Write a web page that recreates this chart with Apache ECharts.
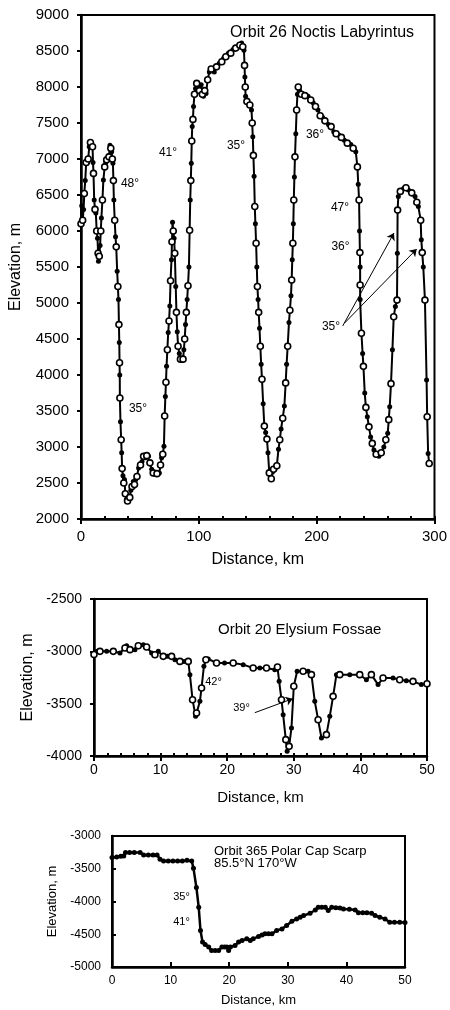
<!DOCTYPE html>
<html>
<head>
<meta charset="utf-8">
<script src="https://cdn.jsdelivr.net/npm/echarts@6/dist/echarts.min.js"></script>
<style>html,body{margin:0;padding:0;background:#fff}#c{width:450px;height:1010px}</style>
</head>
<body>
<div id="c"></div>
<script>
// ---------- DATA ----------
// Panel 1: Orbit 26 Noctis Labyrintus  [distance km, elevation m]
const noctisProfile = [
[0,6100],[0.6,6350],[1.4,6150],[2.2,6300],[2.8,6520],[3.6,6700],[4.4,6950],[5,6940],[6.1,7000],[7,7170],[8,7230],[8.8,7200],[9.8,7170],[10.2,6950],[10.6,6800],[11.2,6430],[11.9,6300],[12.6,6250],[13.3,6000],[14,5900],[14.5,5690],[14.8,5580],[15.5,5650],[16.2,5800],[16.8,6000],[17.3,6180],[18.2,6430],[19,6710],[20.1,6890],[21,6950],[21.8,6990],[22.8,7000],[23.7,7030],[24.6,7190],[25.3,7150],[26,7100],[26.6,7000],[27.1,6940],[27.5,6700],[27.9,6430],[28.6,6150],[29.3,5920],[29.9,5780],[30.7,5440],[31.3,5230],[31.8,5050],[32.2,4700],[32.5,4450],[32.7,4170],[32.9,4000],[33.0,3680],[33.5,3350],[34.1,3100],[34.5,2920],[34.9,2700],[35.6,2600],[36.3,2500],[36.9,2550],[37.6,2350],[38.5,2270],[39.5,2250],[40.5,2260],[41.4,2300],[42.3,2400],[43.3,2450],[44.4,2520],[45.4,2480],[46.5,2550],[47.5,2590],[48.9,2710],[50.5,2750],[51.8,2800],[53.1,2870],[54.5,2850],[55.8,2880],[57.3,2870],[58.5,2780],[60,2690],[61.3,2640],[62.8,2620],[64.5,2630],[66.5,2640],[67.5,2750],[68.4,2850],[69.4,2900],[70.4,3010],[71.0,3430],[71.6,3700],[72.1,3900],[72.6,4120],[73.3,4350],[74.0,4590],[74.7,4750],[75.4,4960],[76.0,5310],[76.8,5600],[77.2,5850],[77.7,6120],[78.3,6000],[79.0,5900],[79.6,5690],[80.4,5230],[81.0,4870],[81.7,4600],[82.4,4400],[83.4,4300],[84.4,4220],[85.5,4200],[86.6,4220],[87.3,4350],[88.0,4500],[88.7,4700],[89.4,4870],[90.1,5050],[90.8,5240],[91.6,5500],[92.2,6010],[92.7,6430],[93.2,6700],[93.6,6940],[94.0,7250],[94.4,7450],[95.0,7550],[95.5,7730],[96.3,7900],[97.2,7980],[98.2,8050],[99.2,8030],[100.5,7950],[102,8030],[103,7900],[103.9,7870],[105,7950],[106.1,7910],[107.5,8100],[108.9,8210],[110.5,8250],[113.1,8210],[115,8280],[117.3,8330],[119.5,8350],[121,8400],[122.9,8420],[125,8470],[127.1,8470],[129,8520],[131.3,8540],[133,8550],[134.8,8580],[136.3,8610],[137.3,8560],[138.3,8510],[138.8,8300],[139.1,8140],[139.4,8000],[139.7,7870],[140.8,7800],[141.9,7770],[143.3,7750],[144.7,7680],[145.3,7500],[145.8,7310],[146.3,7050],[146.9,6760],[147.5,6340],[148.0,6100],[148.6,5830],[149.2,5500],[149.7,5230],[150.3,5050],[150.8,4870],[151.5,4650],[152.2,4400],[152.9,4150],[153.6,3940],[154.6,3600],[155.6,3290],[156.7,3200],[157.8,3110],[158.7,2920],[159.8,2640],[160.6,2600],[161.5,2560],[162.4,2650],[163.4,2690],[164.8,2700],[166.2,2740],[167.6,2970],[168.7,3100],[169.8,3250],[171.2,3400],[172.6,3570],[173.7,3890],[174.5,4150],[175.4,4400],[176.5,4730],[177.3,4900],[178.2,5100],[178.8,5320],[179.3,5600],[179.8,5830],[180.2,6100],[180.6,6430],[181.1,6750],[181.6,7030],[182.3,7350],[183.0,7680],[183.7,7900],[184.4,8000],[185.5,7950],[187,7900],[188.5,7900],[190,7880],[192.7,7870],[195,7820],[197,7780],[199,7730],[201.1,7680],[203,7600],[205,7580],[207,7530],[210,7480],[212.3,7450],[214.5,7380],[216.5,7350],[219,7330],[221,7300],[223.5,7260],[226,7220],[229,7200],[231,7150],[233.2,7100],[234.6,6890],[235.3,6650],[236.0,6430],[236.4,6000],[236.7,5700],[236.9,5500],[236.9,5250],[236.9,5050],[238.0,4580],[239.0,4300],[239.7,4120],[240.8,3750],[241.8,3550],[243.0,3420],[244.4,3280],[245.8,3140],[247.2,3050],[248.6,2960],[250.5,2900],[252.8,2870],[254.8,2920],[257.0,3000],[258.7,3100],[260.3,3190],[261.2,3380],[262.0,3560],[263.1,3880],[264.3,4350],[265.4,4810],[266.8,4950],[268.2,5040],[268.5,5690],[268.7,6290],[269.3,6480],[271,6550],[273.8,6590],[275.8,6600],[277.9,6570],[280.7,6530],[283.5,6480],[285,6400],[286.3,6340],[288.3,6150],[288.8,5880],[289.6,5700],[290.5,5500],[291.9,5040],[293.3,3930],[293.8,3420],[294.6,2910],[295.5,2770]
];
// Panel 2: Orbit 20 Elysium Fossae
const elysiumProfile = [
[0,-3030],[0.5,-3000],[0.9,-3000],[1.9,-3000],[2.9,-3000],[3.9,-3016],[4.65,-2968],[4.9,-2946],[5.4,-2984],[6.15,-2984],[6.65,-2946],[7.4,-2936],[7.9,-2958],[8.65,-3016],[9.15,-3032],[9.65,-3000],[10.4,-3048],[11.0,-3048],[11.65,-3048],[12.15,-3080],[12.9,-3096],[13.5,-3096],[14.15,-3096],[14.4,-3223],[14.8,-3462],[15.25,-3621],[15.4,-3589],[15.9,-3478],[16.15,-3350],[16.5,-3143],[16.8,-3080],[17.15,-3073],[18.4,-3111],[19.6,-3111],[20.9,-3111],[22.4,-3127],[23.9,-3159],[24.9,-3159],[25.9,-3159],[27.15,-3175],[27.55,-3150],[27.8,-3287],[28.15,-3462],[28.4,-3605],[28.8,-3844],[29.0,-3955],[29.3,-3908],[29.65,-3732],[30.0,-3334],[30.5,-3191],[31.4,-3191],[32.15,-3191],[32.65,-3223],[33.15,-3478],[33.65,-3653],[34.15,-3828],[34.9,-3796],[35.4,-3621],[35.9,-3430],[36.4,-3223],[36.9,-3223],[38.4,-3223],[39.9,-3223],[40.9,-3271],[41.65,-3223],[42.65,-3318],[43.4,-3255],[44.9,-3255],[45.9,-3271],[46.9,-3280],[47.9,-3287],[49.15,-3318],[50,-3309]
];
// Panel 3: Orbit 365 Polar Cap Scarp
const polarProfile = [
[0,-3330],[0.8,-3320],[1.5,-3310],[2,-3304],[2.3,-3253],[3.0,-3253],[3.8,-3253],[4.8,-3253],[5.4,-3289],[6.2,-3289],[7.0,-3289],[7.7,-3289],[8.2,-3354],[8.8,-3380],[9.6,-3380],[10.4,-3380],[11.2,-3380],[12.0,-3380],[12.8,-3370],[13.6,-3380],[13.9,-3491],[14.4,-3785],[14.8,-4089],[15.1,-4443],[15.45,-4620],[15.9,-4656],[16.5,-4696],[17.0,-4747],[17.6,-4747],[18.2,-4747],[18.75,-4696],[19.2,-4696],[19.6,-4696],[19.9,-4747],[20.2,-4696],[21.0,-4671],[21.6,-4620],[22.2,-4595],[23.0,-4570],[23.6,-4595],[24.1,-4570],[25.0,-4534],[25.6,-4510],[26.1,-4494],[26.7,-4494],[27.3,-4494],[28.1,-4443],[29.0,-4418],[29.8,-4367],[30.7,-4301],[31.5,-4266],[32.1,-4240],[32.7,-4215],[33.8,-4180],[34.7,-4129],[35.2,-4089],[35.8,-4089],[36.4,-4089],[36.9,-4139],[37.5,-4089],[38.2,-4095],[38.9,-4099],[39.5,-4114],[40.5,-4120],[41.5,-4129],[42.05,-4170],[42.8,-4170],[43.5,-4170],[44.3,-4180],[44.9,-4215],[45.7,-4240],[46.6,-4266],[47.4,-4316],[48.2,-4316],[49.1,-4316],[50,-4320]
];
// Tick/axis ranges
const p1X = {min:0, max:300, step:100, minor:20};
const p1Y = {min:2000, max:9000, step:500};
const p2X = {min:0, max:50, step:10, minor:2};
const p2Y = {min:-4000, max:-2500, step:500};
const p3X = {min:0, max:50, step:10};
const p3Y = {min:-5000, max:-3000, step:500};
// Titles and annotations
const titles = ['Orbit 26 Noctis Labyrintus', 'Orbit 20 Elysium Fossae', 'Orbit 365 Polar Cap Scarp', '85.5°N 170°W'];
const xName = 'Distance, km';
const yName = 'Elevation, m';
const p1Angles = ['48°','41°','35°','36°','47°','36°','35°','35°'];
const p2Angles = ['42°','39°'];
const p3Angles = ['35°','41°'];
const p1Arrows = [[[222.1,4681],[265.6,5972]], [[223.7,4722],[284.9,5750]]];
const p2Arrows = [[[24.15,-3586],[29.85,-3452]]];

// ---------- LAYOUT ----------
const FF = "'Liberation Sans', Arial, sans-serif";
const grids = [
  {left:80, top:15, width:358, height:504},
  {left:94, top:599, width:333, height:157},
  {left:112, top:836, width:293, height:131}
];
const p1AnglePos = [[130,184],[168,153],[236,146],[315,135],[340,208],[340.5,247],[331,327],[138,409]];
const p2AnglePos = [[213.5,682],[241.5,708]];
const p3AnglePos = [[181.5,897],[181.5,922]];
const plain = v => String(v);

function mainX(gi, r, fs, labelMargin, nameGap, nameFs, tickInside) {
  return {
    type:'value', gridIndex:gi, min:r.min, max:r.max, interval:r.step,
    name:xName, nameLocation:'middle', nameGap:nameGap,
    nameTextStyle:{fontFamily:FF, fontSize:nameFs, color:'#000'},
    axisLine:{show:true, onZero:false, lineStyle:{color:'#000', width:2.5}},
    axisTick:{show:true, inside:tickInside, length:5, lineStyle:{color:'#000', width:2}},
    axisLabel:{fontFamily:FF, fontSize:fs, color:'#000', margin:labelMargin, formatter:plain},
    splitLine:{show:false}
  };
}
function minorX(gi, r) {
  return {
    type:'value', gridIndex:gi, min:r.min, max:r.max, interval:r.minor, position:'bottom',
    axisLine:{show:false}, axisLabel:{show:false}, splitLine:{show:false},
    axisTick:{show:true, inside:true, length:3, lineStyle:{color:'#000', width:2}}
  };
}
function mainY(gi, r, fs, labelMargin, nameGap, nameFs, tickInside) {
  return {
    type:'value', gridIndex:gi, min:r.min, max:r.max, interval:r.step,
    name:yName, nameLocation:'middle', nameGap:nameGap, nameRotate:90,
    nameTextStyle:{fontFamily:FF, fontSize:nameFs, color:'#000'},
    axisLine:{show:true, onZero:false, lineStyle:{color:'#000', width:2.5}},
    axisTick:{show:true, inside:tickInside, length:4, lineStyle:{color:'#000', width:2}},
    axisLabel:{fontFamily:FF, fontSize:fs, color:'#000', margin:labelMargin, formatter:plain},
    splitLine:{show:false}
  };
}

function lineSeries(xi, yi, data, lw, dot, arrows) {
  const s = {
    type:'line', xAxisIndex:xi, yAxisIndex:yi, data:data,
    symbol:'circle', symbolSize:dot, showSymbol:true,
    lineStyle:{color:'#000', width:lw}, itemStyle:{color:'#000', opacity:1},
    animation:false, z:3
  };
  if (arrows) {
    s.markLine = {
      silent:true, symbol:['none','arrow'], symbolSize:7,
      lineStyle:{color:'#000', width:1, type:'solid'}, label:{show:false},
      data: arrows.map(a => [{coord:a[0]}, {coord:a[1]}])
    };
  }
  return s;
}
function openSeries(xi, yi, data) {
  return {
    type:'scatter', xAxisIndex:xi, yAxisIndex:yi,
    data: data.filter((d, i) => i % 2 === 0),
    symbol:'circle', symbolSize:6,
    itemStyle:{color:'#ffffff', borderColor:'#000000', borderWidth:1.6, opacity:1},
    emphasis:{disabled:true},
    animation:false, z:4
  };
}

function txt(t, x, y, fs, align) {
  return {type:'text', x:x, y:y, z:10, style:{text:t, fontFamily:FF, fontSize:fs, fill:'#000', align:align||'center', verticalAlign:'middle'}};
}
const graphics = [
  txt(titles[0], 230, 33, 16, 'left'),
  txt(titles[1], 218, 630, 15, 'left'),
  txt(titles[2], 214, 851, 13, 'left'),
  txt(titles[3], 214, 863, 13, 'left')
];
p1Angles.forEach((t, i) => graphics.push(txt(t, p1AnglePos[i][0], p1AnglePos[i][1], 12)));
p2Angles.forEach((t, i) => graphics.push(txt(t, p2AnglePos[i][0], p2AnglePos[i][1], 11)));
p3Angles.forEach((t, i) => graphics.push(txt(t, p3AnglePos[i][0], p3AnglePos[i][1], 11)));

const chart = echarts.init(document.getElementById('c'), null, {renderer:'canvas'});
chart.setOption({
  animation:false,
  backgroundColor:'#fff',
  grid: grids.map(g => Object.assign({show:true, borderColor:'#000', borderWidth:2, backgroundColor:'transparent'}, g)),
  xAxis: [
    mainX(0, p1X, 15, 10, 33, 16, false),
    minorX(0, p1X),
    mainX(1, p2X, 14, 7, 34, 15, false),
    minorX(1, p2X),
    mainX(2, p3X, 12, 8, 27, 13, true)
  ],
  yAxis: [
    mainY(0, p1Y, 15, 12, 57, 16, false),
    mainY(1, p2Y, 14, 12, 55, 16, false),
    mainY(2, p3Y, 12, 11, 49, 13, true)
  ],
  series: [
    lineSeries(0, 0, noctisProfile, 2, 5, p1Arrows),
    openSeries(0, 0, noctisProfile),
    lineSeries(2, 1, elysiumProfile, 2, 5, p2Arrows),
    openSeries(2, 1, elysiumProfile),
    lineSeries(4, 2, polarProfile, 2.5, 5, null)
  ],
  graphic: graphics
});
</script>
</body>
</html>
